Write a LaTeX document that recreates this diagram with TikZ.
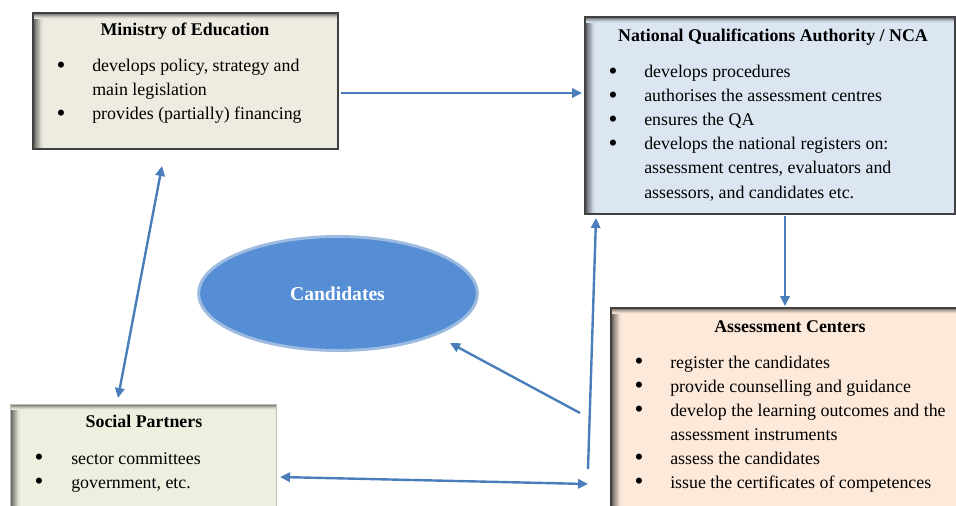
\documentclass[tikz,border=0pt]{standalone}
\usepackage{fontspec}
\setmainfont{Liberation Serif}
\usetikzlibrary{shapes.geometric,arrows.meta,fit}

\definecolor{moefill}{HTML}{EEECE1}
\definecolor{ncafill}{HTML}{DCE6F2}
\definecolor{acfill}{HTML}{FDE9D9}
\definecolor{spfill}{HTML}{EBF1DE}
\definecolor{linkblue}{HTML}{4A7EBB}
\definecolor{ovalfill}{HTML}{558ED5}
\definecolor{ovalrim}{HTML}{9DBBE0}

\tikzset{
  % panel with a soft inner shadow along its left and top edges,
  % built from thin strips that blend from grey into the fill colour
  panel/.style={inner sep=0, fill=#1, draw=black!75, line width=1pt,
    path picture={
      \foreach \k in {0,...,11}{
        \pgfmathtruncatemacro\p{round(64*(1-\k/12)^1.6)}
        \fill[black!\p!#1]
          ([xshift={\k*0.7pt}]path picture bounding box.north west) rectangle
          ([xshift={(\k+1)*0.7pt+0.05pt}]path picture bounding box.south west);
      }
      \foreach \k in {0,...,5}{
        \pgfmathtruncatemacro\p{round(60*(1-\k/6)^1.6)}
        \fill[black!\p!#1]
          ([yshift={-\k*0.75pt}]path picture bounding box.north west) rectangle
          ([yshift={-(\k+1)*0.75pt-0.05pt}]path picture bounding box.north east);
      }
    }},
  heading/.style={anchor=base, inner sep=0, font=\bfseries\fontsize{13.4}{16}\selectfont},
  entry/.style={anchor=base west, inner sep=0, font=\fontsize{13.4}{16}\selectfont},
  dot/.style={anchor=base, inner sep=0, font=\fontsize{19}{20}\selectfont, yshift=-1pt},
  link/.style={draw=linkblue, line width=1.8pt,
    -{Triangle[length=7.5pt,width=7pt]}},
  twoway/.style={link,
    {Triangle[length=7.5pt,width=7pt]}-{Triangle[length=7.5pt,width=7pt]}},
}

\begin{document}
\begin{tikzpicture}[x=0.75pt,y=-0.75pt]
\useasboundingbox (0,0) rectangle (956,506);

% ---- panels ----
\node[panel=moefill, fit={(33,13) (338,149)}] (moe) {};
\node[panel=ncafill, fit={(585,17) (955,214)}] (nca) {};
\node[panel=acfill,  fit={(611,308) (962,512)}] (ac) {};
\node[panel=spfill, draw=black!25, line width=0.5pt, fit={(10,404) (276,512)}] (sp) {};

% ---- Ministry of Education ----
\node[heading] (moe-t) at (185,36) {Ministry of Education};
\foreach \y/\t [count=\i] in {72/{develops policy, strategy and},
                              96/{main legislation},
                              120/{provides (partially) financing}}
  \node[entry] (moe-l\i) at (92,\y) {\t};
\foreach \y [count=\i] in {72,120}
  \node[dot] (moe-b\i) at (61,\y) {\textbullet};

% ---- National Qualifications Authority ----
\node[heading] (nca-t) at (773,42) {National Qualifications Authority / NCA};
\foreach \y/\t [count=\i] in {78/{develops procedures},
                              102/{authorises the assessment centres},
                              126/{ensures the QA},
                              150/{develops the national registers on:},
                              174/{assessment centres, evaluators and},
                              198/{assessors, and candidates etc.}}
  \node[entry] (nca-l\i) at (644,\y) {\t};
\foreach \y [count=\i] in {78,102,126,150}
  \node[dot] (nca-b\i) at (613,\y) {\textbullet};

% ---- Assessment Centers ----
\node[heading] (ac-t) at (790,332) {Assessment Centers};
\foreach \y/\t [count=\i] in {368/{register the candidates},
                              392/{provide counselling and guidance},
                              416/{develop the learning outcomes and the},
                              440/{assessment instruments},
                              464/{assess the candidates},
                              488/{issue the certificates of competences}}
  \node[entry] (ac-l\i) at (670,\y) {\t};
\foreach \y [count=\i] in {368,392,416,464,488}
  \node[dot] (ac-b\i) at (639,\y) {\textbullet};

% ---- Social Partners ----
\node[heading] (sp-t) at (144,427) {Social Partners};
\foreach \y/\t [count=\i] in {464/{sector committees},
                              488/{government, etc.}}
  \node[entry] (sp-l\i) at (71,\y) {\t};
\foreach \y [count=\i] in {464,488}
  \node[dot] (sp-b\i) at (39,\y) {\textbullet};

% ---- Candidates ----
\node[ellipse, fill=ovalfill, draw=ovalrim, line width=2.2pt,
      minimum width=209pt, minimum height=85.5pt, inner sep=0] (cand) at (338,293.5) {};
\node[anchor=base, inner sep=0, text=white,
      font=\bfseries\fontsize{14.7}{17}\selectfont] (cand-t) at (337.5,300) {Candidates};

% ---- connector end points ----
\coordinate (moe-r)  at (341,93);
\coordinate (nca-l)  at (582,93);
\coordinate (moe-b)  at (162,166);
\coordinate (sp-top) at (118,398);
\coordinate (nca-b)  at (785,216);
\coordinate (ac-top) at (785,306);
\coordinate (ac-lo)  at (588,469);
\coordinate (nca-lb) at (596,218);
\coordinate (ac-lm)  at (580,413);
\coordinate (cand-r) at (450,343);
\coordinate (sp-r)   at (280,477);
\coordinate (ac-lb)  at (588,484);

% ---- connectors ----
\draw[link]   (moe-r) -- (nca-l);
\draw[twoway] (moe-b) -- (sp-top);
\draw[link]   (nca-b) -- (ac-top);
\draw[link]   (ac-lo) -- (nca-lb);
\draw[link]   (ac-lm) -- (cand-r);
\draw[twoway] (sp-r) -- (ac-lb);
\end{tikzpicture}
\end{document}
